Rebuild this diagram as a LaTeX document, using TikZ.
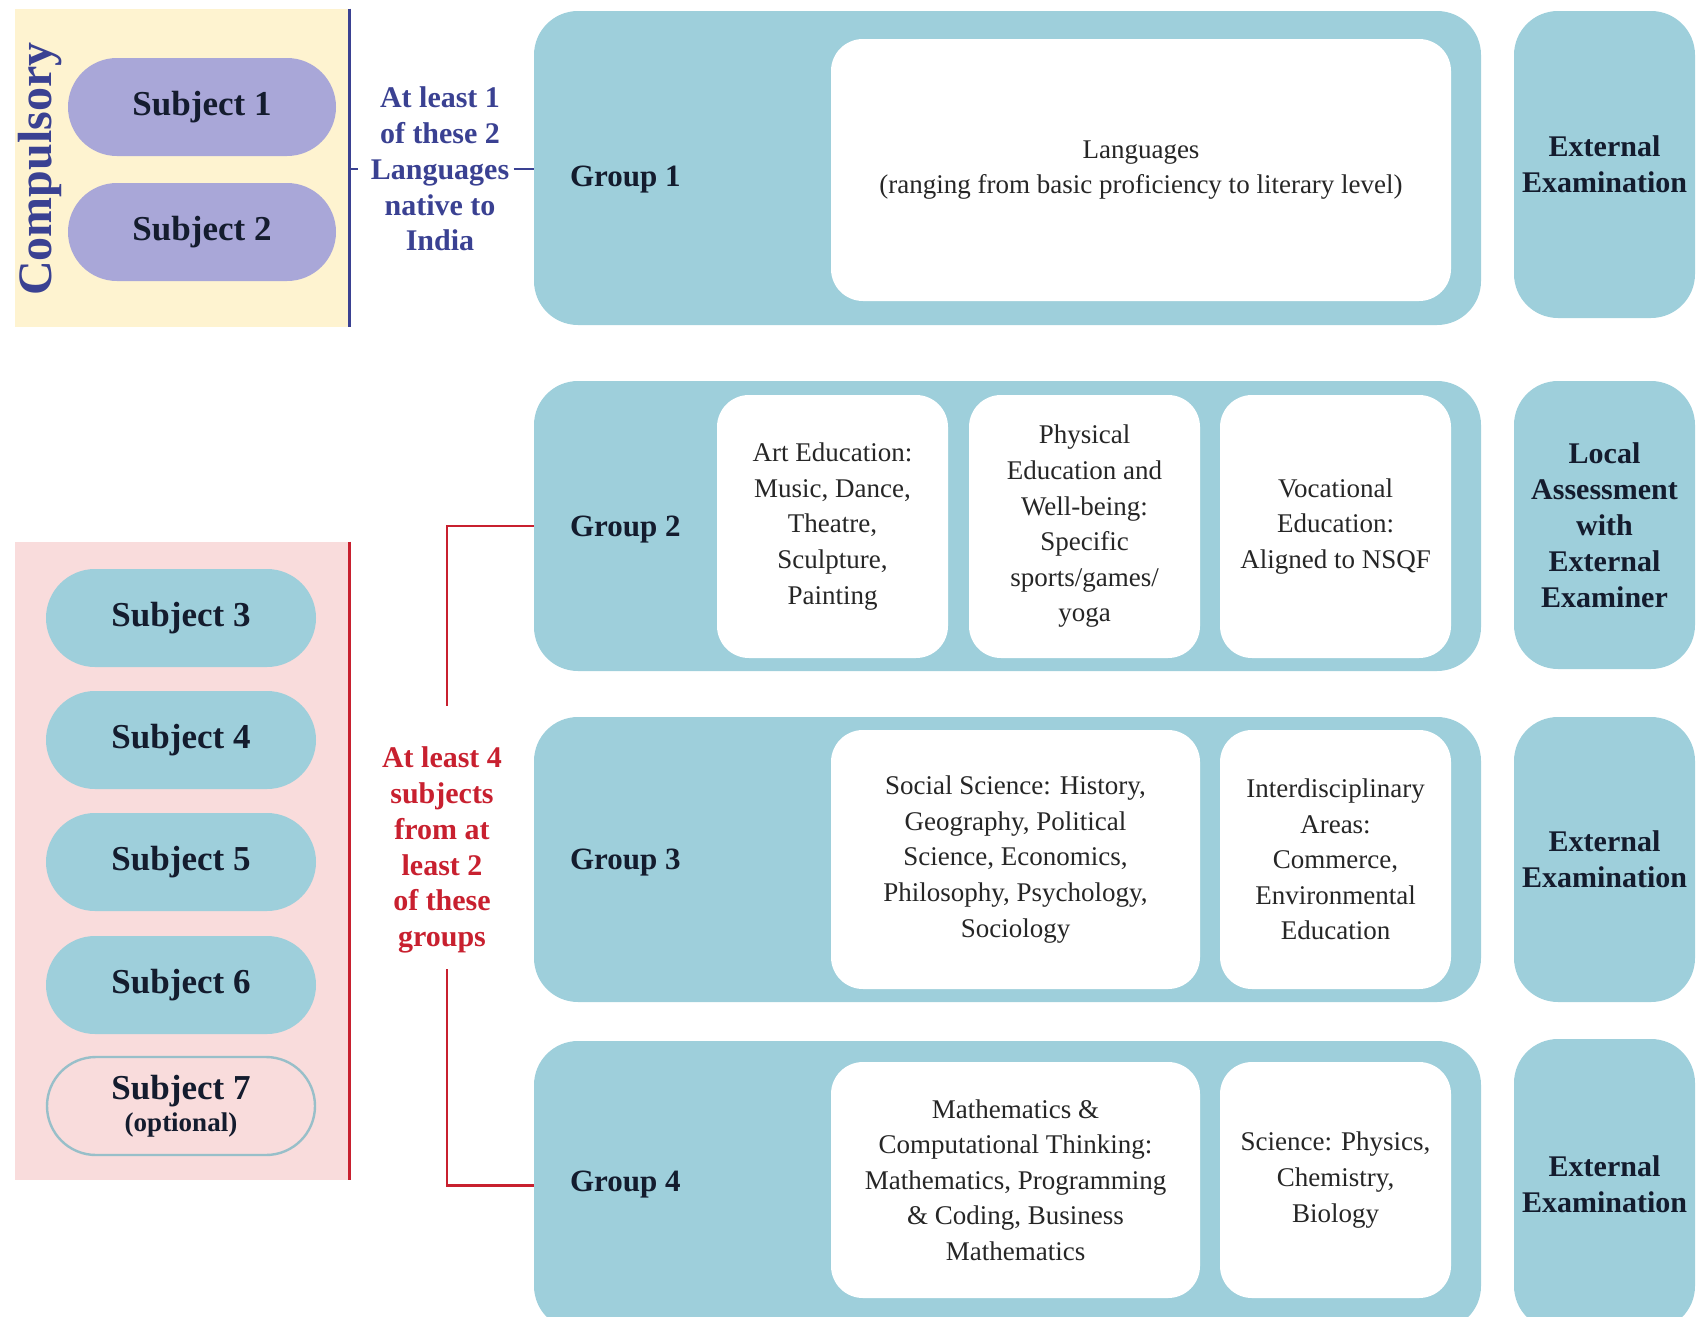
\documentclass[tikz,border=0pt]{standalone}
\usepackage{fontspec}
\setmainfont{Liberation Serif}
\definecolor{grpblue}{HTML}{9ECFDB}
\definecolor{pillpurple}{HTML}{A9A7D8}
\definecolor{compyellow}{HTML}{FEF3D0}
\definecolor{optpink}{HTML}{F9DCDC}
\definecolor{navy}{HTML}{3A4192}
\definecolor{redline}{HTML}{C8202F}
\definecolor{ink}{HTML}{141C2E}
\begin{document}
\begin{tikzpicture}
		[x=0.5pt,y=-0.5pt,
		grp/.style={rectangle,rounded corners=22pt,fill=grpblue,minimum width=473.5pt,inner sep=0pt},
		exam/.style={rectangle,rounded corners=22pt,fill=grpblue,minimum width=90.5pt,inner sep=0pt,
align=center,text=ink,font=\bfseries\fontsize{15}{18}\selectfont},
		card/.style={rectangle,rounded corners=16pt,fill=white,inner sep=0pt,align=center,
text=black!85,font=\fontsize{13.5}{17.8}\selectfont},
		pill/.style={rectangle,rounded corners=24.5pt,minimum height=49pt,inner sep=0pt,
text=ink,font=\bfseries\fontsize{17.5}{17}\selectfont},
		grplabel/.style={anchor=west,text=ink,font=\bfseries\fontsize{15.5}{18}\selectfont},
		note/.style={align=center,inner sep=0pt,font=\bfseries\fontsize{15}{17.9}\selectfont}]
		\useasboundingbox (0,0) rectangle (1708,1317);
		% left column
		\node at (182,168) (yel) [rectangle,fill=compyellow,minimum width=167pt,minimum height=159pt] {};
		\node at (40,169) (comp) [rotate=90,text=navy,font=\bfseries\fontsize{24}{24}\selectfont] {Compulsory};
		\node at (202,107) (s1) [pill,fill=pillpurple,minimum width=134pt] {Subject 1};
		\node at (202,232) (s2) [pill,fill=pillpurple,minimum width=134pt] {Subject 2};
		\node at (182,861) (pink) [rectangle,fill=optpink,minimum width=167pt,minimum height=319pt] {};
		\node at (181,618) (s3) [pill,fill=grpblue,minimum width=135pt] {Subject 3};
		\node at (181,740) (s4) [pill,fill=grpblue,minimum width=135pt] {Subject 4};
		\node at (181,862) (s5) [pill,fill=grpblue,minimum width=135pt] {Subject 5};
		\node at (181,985) (s6) [pill,fill=grpblue,minimum width=135pt] {Subject 6};
		\node at (181,1106) (s7) [pill,fill=optpink,draw=grpblue!80!gray,line width=1.2pt,minimum width=134pt,
align=center,font=\bfseries\fontsize{17.5}{15}\selectfont] {Subject 7\\[1pt]{\fontsize{13.5}{15}\selectfont (optional)}};
		\draw[navy,line width=1.5pt] (yel.north east) -- (yel.south east);
		\draw[redline,line width=1.3pt] (pink.north east) -- (pink.south east);
		% groups
		\node at (1007.5,168) (g1) [grp,minimum height=157pt] {};
		\node at (1007.5,526) (g2) [grp,minimum height=145pt] {};
		\node at (1007.5,859.5) (g3) [grp,minimum height=142.5pt] {};
		\node at (1007.5,1185.5) (g4) [grp,minimum height=144.5pt] {};
		\node at (563,180) (l1) [grplabel] {Group 1};
		\node at (563,530) (l2) [grplabel] {Group 2};
		\node at (563,863) (l3) [grplabel] {Group 3};
		\node at (563,1185) (l4) [grplabel] {Group 4};
		\node at (1141,170) (lang) [card,minimum width=310pt,minimum height=131pt]
			{Languages\\(ranging from basic proficiency to literary level)};
		\node at (832.5,526.5) (art) [card,minimum width=115.5pt,minimum height=131.5pt]
			{Art Education:\\Music, Dance,\\Theatre,\\Sculpture,\\Painting};
		\node at (1084.5,526.5) (phys) [card,minimum width=115.5pt,minimum height=131.5pt]
			{Physical\\Education and\\Well-being:\\Specific\\sports/games/\\yoga};
		\node at (1335.5,526.5) (voc) [card,minimum width=115.5pt,minimum height=131.5pt]
			{Vocational\\Education:\\Aligned to NSQF};
		\node at (1015.5,859.5) (soc) [card,minimum width=184.5pt,minimum height=129.5pt]
			{Social Science: History,\\Geography, Political\\Science, Economics,\\Philosophy, Psychology,\\Sociology};
		\node at (1335.5,859.5) (inter) [card,minimum width=115.5pt,minimum height=129.5pt]
			{Interdisciplinary\\Areas:\\Commerce,\\Environmental\\Education};
		\node at (1015.5,1180) (math) [card,minimum width=184.5pt,minimum height=118pt]
			{Mathematics \&\\Computational Thinking:\\Mathematics, Programming\\\& Coding, Business\\Mathematics};
		\node at (1335.5,1180) (sci) [card,minimum width=115.5pt,minimum height=118pt]
			{Science: Physics,\\Chemistry,\\Biology};
		% assessment
		\node at (1604.5,164.5) (e1) [exam,minimum height=153.5pt] {External\\Examination};
		\node at (1604.5,525) (e2) [exam,minimum height=144pt] {Local\\Assessment\\with\\External\\Examiner};
		\node at (1604.5,859.5) (e3) [exam,minimum height=142.5pt] {External\\Examination};
		\node at (1604.5,1184.5) (e4) [exam,minimum height=145.5pt] {External\\Examination};
		% rules
		\node at (440,169) (blab) [note,text=navy] {At least 1\\of these 2\\Languages\\native to\\India};
		\draw[navy,line width=1.3pt,shorten >=6pt] (yel.east |- blab.west) -- (blab.west);
		\draw[navy,line width=1.3pt,shorten <=2pt] (blab.east) -- (g1.west |- blab.east);
		\node at (442,850) (rlab) [note,text=redline] {At least 4\\subjects\\from at\\least 2\\of these\\groups};
		\coordinate (rtop) at (447,706);
		\coordinate (rbot) at (447,969);
		\draw[redline,line width=1.3pt] (g2.west) -| (rtop);
		\draw[redline,line width=1.3pt] (g4.west) -| (rbot);
	\end{tikzpicture}
\end{document}
